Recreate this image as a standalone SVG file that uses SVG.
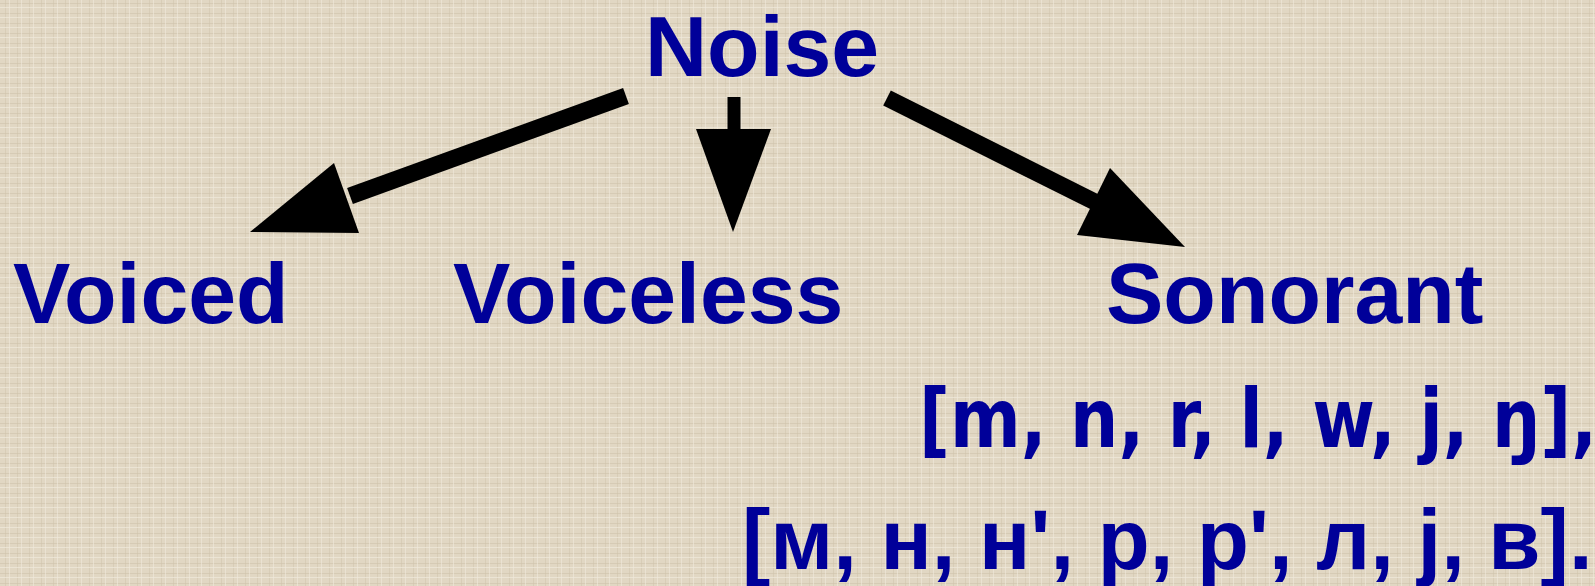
<svg xmlns="http://www.w3.org/2000/svg" width="1595" height="586" viewBox="0 0 1595 586">
<defs>
<pattern id="tex" width="12" height="10" patternUnits="userSpaceOnUse">
<rect width="12" height="10" fill="#E1D7C3"/>
<rect x="0" y="3" width="12" height="1" fill="#CFC3AC" opacity="0.6"/>
<rect x="5" y="0" width="1" height="10" fill="#CFC3AC" opacity="0.5"/>
<rect x="0" y="7" width="12" height="1" fill="#F0EADC" opacity="0.7"/>
<rect x="9" y="0" width="1" height="10" fill="#F0EADC" opacity="0.6"/>
</pattern>
<style>
.lbl{font-family:"Liberation Sans",Arial,sans-serif;font-weight:bold;font-size:86px;fill:#000099}
.ipa{font-family:"DejaVu Sans Condensed","DejaVu Sans",sans-serif;font-stretch:condensed;font-weight:bold;font-size:82px;fill:#000099}
.cyr{font-family:"Liberation Sans",Arial,sans-serif;font-weight:bold;font-size:85px;fill:#000099}
.shaft{stroke:#000;stroke-width:17;fill:none}
.head{fill:#000}
</style>
</defs>
<rect width="1595" height="586" fill="url(#tex)"/>
<g id="connectors">
<line class="shaft" x1="626" y1="96" x2="350" y2="196"/>
<polygon class="head" points="250,232 334,163 359,233"/>
<line class="shaft" x1="734" y1="97" x2="734" y2="132" style="stroke-width:13"/>
<polygon class="head" points="696,129 771,129 733,232"/>
<line class="shaft" x1="887" y1="98" x2="1095" y2="202"/>
<polygon class="head" points="1185,247 1110,168 1077,235"/>
</g>
<g id="noise"><text class="lbl" x="645" y="76">Noise</text></g>
<g id="voiced"><text class="lbl" x="13" y="323">Voiced</text></g>
<g id="voiceless"><text class="lbl" x="453" y="323">Voiceless</text></g>
<g id="sonorant">
<text class="lbl" x="1106" y="323">Sonorant</text>
<text class="ipa" transform="translate(919,447) scale(0.92,1)">[m, n, r, l, w, j, ŋ],</text>
<text class="cyr" x="742" y="569">[м, н, н', р, р', л, j, в].</text>
</g>
</svg>
